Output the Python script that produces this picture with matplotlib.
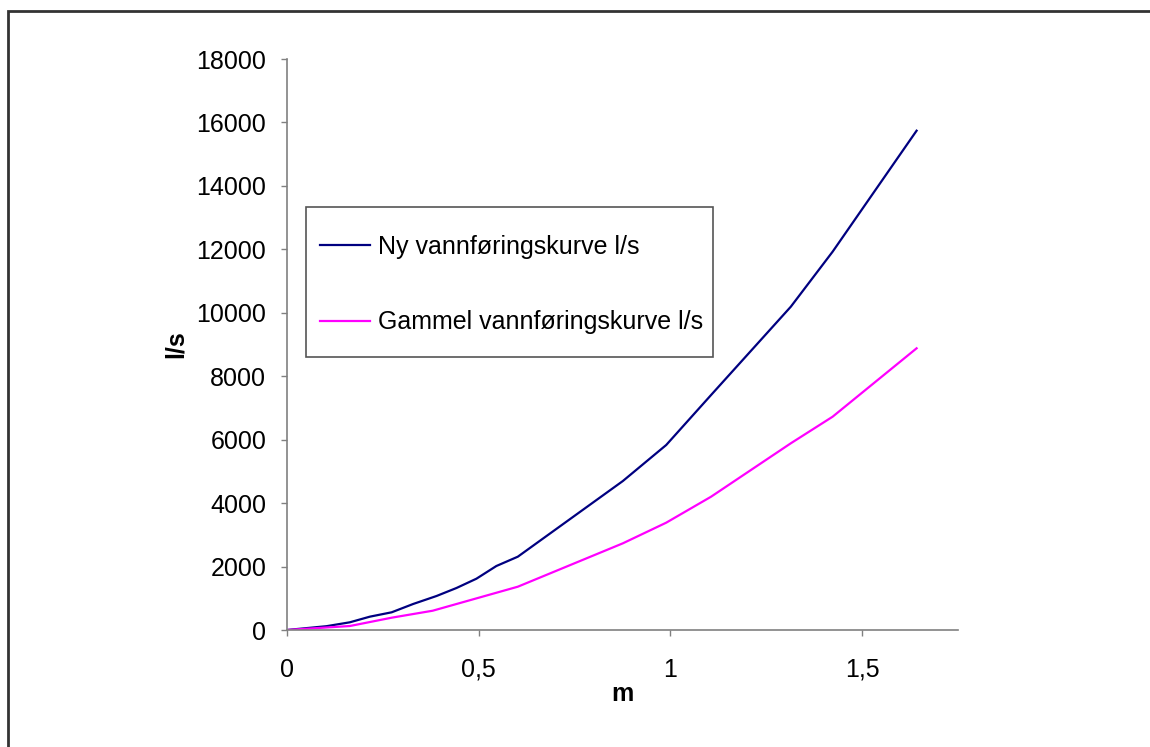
import matplotlib
matplotlib.use("Agg")
import matplotlib.pyplot as plt
from matplotlib.patches import Rectangle
from matplotlib.ticker import FuncFormatter

plt.rcParams['font.family'] = ['Liberation Sans', 'DejaVu Sans']

# water level (m) and discharge (l/s)
m_ny = [0, 0.103, 0.164, 0.216, 0.273, 0.329, 0.39, 0.442, 0.494, 0.546, 0.602,
        0.876, 0.989, 1.106, 1.314, 1.423, 1.642]
ny = [0, 120, 243, 420, 558, 820, 1072, 1324, 1617, 2017, 2311,
      4697, 5832, 7408, 10192, 11926, 15740]

m_gammel = [0, 0.164, 0.273, 0.38, 0.602, 0.876, 0.989, 1.106, 1.314, 1.423, 1.642]
gammel = [0, 126, 388, 608, 1365, 2733, 3383, 4202, 5886, 6724, 8880]

label_ny = "Ny vannføringskurve l/s"
label_gammel = "Gammel vannføringskurve l/s"

x_ticks = [0, 0.5, 1, 1.5]
y_ticks = list(range(0, 18001, 2000))

W, H = 1150, 747
fig = plt.figure(figsize=(W/100, H/100), dpi=100)
ax = fig.add_axes([287/W, 1 - 630/H, 671/W, 571/H])

# outer chart-area border (runs off the right and bottom edges)
fig.patches.append(Rectangle((7.5/W, -0.05), 1.1, 1 - 10.5/H + 0.05,
                             transform=fig.transFigure, fill=False,
                             edgecolor='#333333', linewidth=2))

ax.plot(m_ny, ny, color='#000080', linewidth=1.6, label=label_ny)
ax.plot(m_gammel, gammel, color='#FF00FF', linewidth=1.6, label=label_gammel)

ax.set_xlim(0, 1.75)
ax.set_ylim(0, 18000)
ax.set_xticks(x_ticks)
ax.set_yticks(y_ticks)
ax.xaxis.set_major_formatter(FuncFormatter(lambda v, p: ('%g' % v).replace('.', ',')))

for s in ['top', 'right']:
    ax.spines[s].set_visible(False)
for s in ['left', 'bottom']:
    ax.spines[s].set_color('#808080')
    ax.spines[s].set_linewidth(1.2)
ax.tick_params(axis='both', colors='#808080', length=4, width=1, labelcolor='black',
               labelsize=18)
ax.tick_params(axis='y', pad=11)
ax.tick_params(axis='x', pad=16)

ax.set_xlabel("m", fontsize=18, fontweight='bold', labelpad=0)
ax.set_ylabel("l/s", fontsize=18, fontweight='bold', labelpad=6)

# legend box drawn separately so it can be taller than the legend padding allows
ax.add_patch(Rectangle((306/W, 1 - 357/H), 407/W, 150/H,
                       transform=fig.transFigure, fill=True, facecolor='white',
                       edgecolor='#555555', linewidth=1.2, zorder=4.5, clip_on=False))
leg = ax.legend(loc='upper left', bbox_to_anchor=(320/W, 1 - 235/H),
                bbox_transform=fig.transFigure, fontsize=18, frameon=False,
                borderpad=0, labelspacing=2.05,
                handlelength=2.0, handletextpad=0.3, borderaxespad=0)

fig.savefig("out.png", dpi=100)
